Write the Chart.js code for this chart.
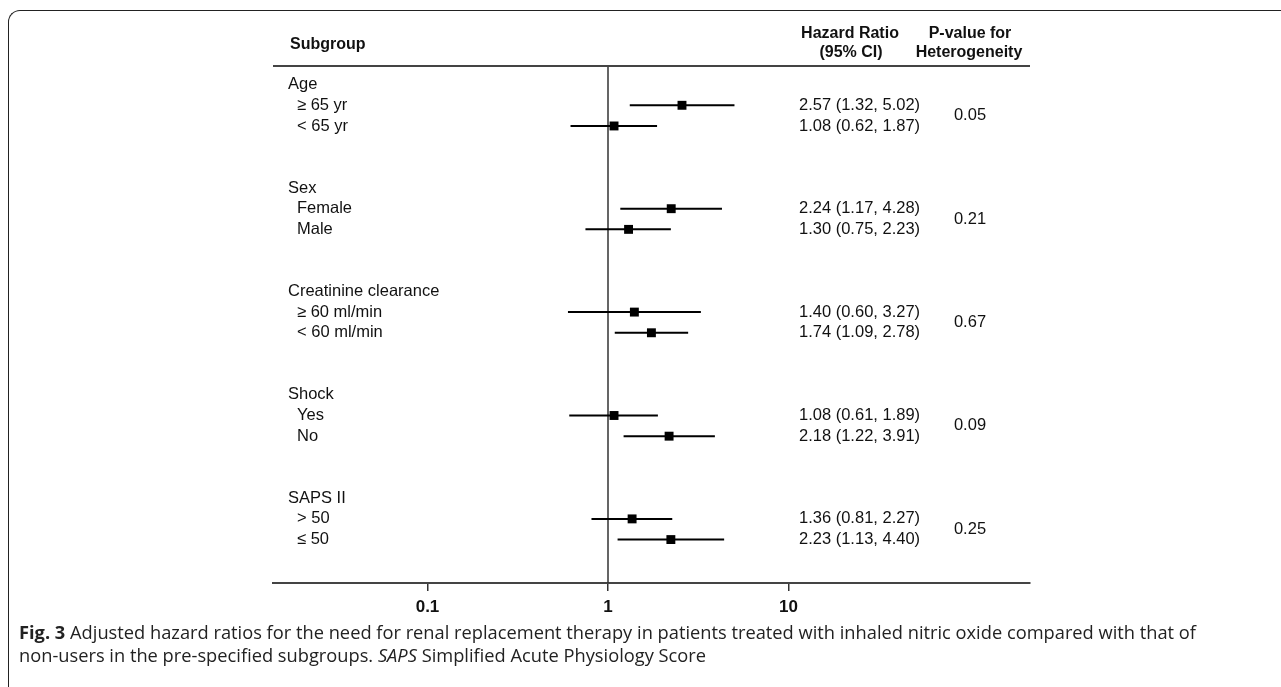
<!DOCTYPE html>
<html>
<head>
<meta charset="utf-8">
<script src="https://cdn.jsdelivr.net/npm/chart.js@4.4.0/dist/chart.umd.min.js"></script>
<style>
  html, body { margin: 0; padding: 0; background: #fff; }
  body { width: 1281px; height: 687px; position: relative; overflow: hidden; }
  #frame { position: absolute; left: 8px; top: 10px; width: 1320px; height: 720px;
           border-top: 1.5px solid #222; border-left: 1.5px solid #222; border-top-left-radius: 12px; }
  #wrap { position: absolute; left: 0; top: 0; width: 1281px; height: 687px; }
  .cap { position: absolute; left: 19px; white-space: nowrap; font-family: "Open Sans", sans-serif;
         font-size: 17.5px; line-height: 20px; color: #222; transform-origin: 0 50%; }
</style>
</head>
<body>
<div id="frame"></div>
<div id="wrap"><canvas id="forest" width="1281" height="687"></canvas></div>
<div class="cap" id="cap1" style="top:622px"><b>Fig. 3</b> Adjusted hazard ratios for the need for renal replacement therapy in patients treated with inhaled nitric oxide compared with that of</div>
<div class="cap" id="cap2" style="top:645px">non-users in the pre-specified subgroups. <i>SAPS</i> Simplified Acute Physiology Score</div>
<script>
// data
const groups = ['Age', 'Sex', 'Creatinine clearance', 'Shock', 'SAPS II'];
const subgroups = ['≥ 65 yr', '< 65 yr', 'Female', 'Male', '≥ 60 ml/min', '< 60 ml/min', 'Yes', 'No', '> 50', '≤ 50'];
const hazardRatio = [2.57, 1.08, 2.24, 1.30, 1.40, 1.74, 1.08, 2.18, 1.36, 2.23];
const ciLower = [1.32, 0.62, 1.17, 0.75, 0.60, 1.09, 0.61, 1.22, 0.81, 1.13];
const ciUpper = [5.02, 1.87, 4.28, 2.23, 3.27, 2.78, 1.89, 3.91, 2.27, 4.40];
const pHeterogeneity = ['0.05', '0.21', '0.67', '0.09', '0.25'];
const xTicks = [0.1, 1, 10];

// row layout: each group takes 5 rows (header, 2 subgroups, 2 blank)
const rowOf = i => Math.floor(i / 2) * 5 + (i % 2);
const groupRow = g => g * 5 - 1;
const yMin = -1.9, yMax = 23.1;
const xMin = 0.01393, xMax = 217.8;

const ciData = [];
hazardRatio.forEach((hr, i) => {
    ciData.push({ x: ciLower[i], y: rowOf(i) });
    ciData.push({ x: ciUpper[i], y: rowOf(i) });
    ciData.push({ x: hr, y: null });
});
const hrPoints = hazardRatio.map((hr, i) => ({ x: hr, y: rowOf(i) }));

const FONT = '"Liberation Sans", Arial, sans-serif';
Chart.defaults.font.family = FONT;

const tablePlugin = {
    id: 'forestTable',
    afterDraw(chart) {
        const { ctx, chartArea, scales: { y } } = chart;
        ctx.save();
        // header rule
        ctx.strokeStyle = '#444';
        ctx.lineWidth = 2;
        ctx.beginPath();
        ctx.moveTo(chartArea.left, chartArea.top);
        ctx.lineTo(chartArea.right, chartArea.top);
        ctx.stroke();

        ctx.fillStyle = '#111';
        ctx.textBaseline = 'middle';
        ctx.font = 'bold 16px ' + FONT;
        ctx.textAlign = 'left';
        ctx.fillText('Subgroup', 290, 45);
        ctx.textAlign = 'center';
        ctx.fillText('Hazard Ratio', 850, 34);
        ctx.fillText('(95% CI)', 851, 53);
        ctx.fillText('P-value for', 970, 34);
        ctx.fillText('Heterogeneity', 969, 53);

        ctx.font = '16.5px ' + FONT;
        groups.forEach((g, k) => {
            ctx.textAlign = 'left';
            ctx.fillText(g, 288, y.getPixelForValue(groupRow(k)));
            const y0 = y.getPixelForValue(rowOf(2 * k));
            const y1 = y.getPixelForValue(rowOf(2 * k + 1));
            ctx.textAlign = 'center';
            ctx.fillText(pHeterogeneity[k], 970, (y0 + y1) / 2);
        });
        subgroups.forEach((s, i) => {
            const py = y.getPixelForValue(rowOf(i));
            ctx.textAlign = 'left';
            ctx.fillText(s, 297, py);
            const txt = hazardRatio[i].toFixed(2) + ' (' + ciLower[i].toFixed(2) + ', ' + ciUpper[i].toFixed(2) + ')';
            ctx.fillText(txt, 799, py);
        });
        ctx.restore();
    }
};

new Chart(document.getElementById('forest'), {
    type: 'scatter',
    data: {
        datasets: [
            { type: 'line', data: ciData, borderColor: '#000', borderWidth: 2, pointRadius: 0, spanGaps: false },
            { data: hrPoints, pointStyle: 'rect', pointRadius: 6.3, backgroundColor: '#000', borderWidth: 0 },
            { type: 'line', data: [{ x: 1, y: yMin }, { x: 1, y: yMax }], borderColor: '#333', borderWidth: 1.5, pointRadius: 0 }
        ]
    },
    options: {
        responsive: false,
        animation: false,
        layout: { padding: { left: 273, right: 251, top: 66, bottom: 64 } },
        plugins: { legend: { display: false }, tooltip: { enabled: false } },
        scales: {
            x: {
                type: 'logarithmic',
                min: xMin, max: xMax,
                afterBuildTicks: s => { s.ticks = xTicks.map(v => ({ value: v })); },
                afterFit: s => { s.height = 40; },
                ticks: {
                    callback: v => String(v),
                    color: '#111',
                    font: { size: 17, weight: 'bold' },
                    padding: 6,
                    maxRotation: 0
                },
                grid: { drawOnChartArea: false, drawTicks: true, tickLength: 8, color: '#333', lineWidth: 1.5 },
                border: { display: true, color: '#444', width: 2 }
            },
            y: { type: 'linear', reverse: true, min: yMin, max: yMax, display: false }
        }
    },
    plugins: [tablePlugin]
});

// fit caption lines to the width of the printed caption
const cap1 = document.getElementById('cap1');
const cap2 = document.getElementById('cap2');
const k = 1177 / cap1.getBoundingClientRect().width;
cap1.style.transform = 'scaleX(' + k + ')';
cap2.style.transform = 'scaleX(' + k + ')';
</script>
</body>
</html>
